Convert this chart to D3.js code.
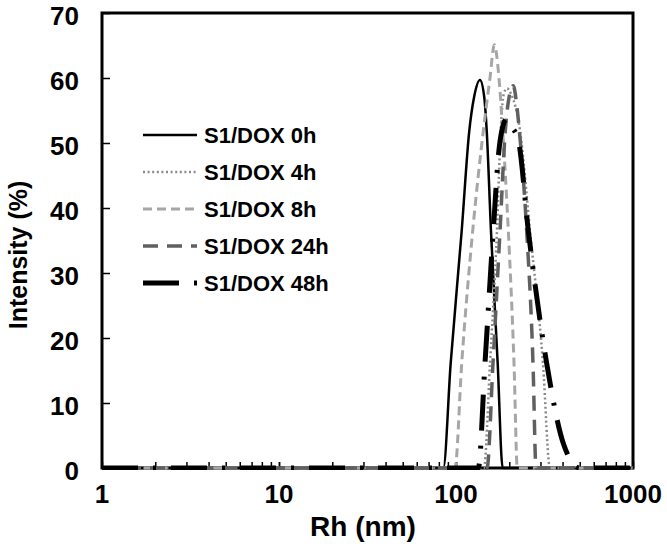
<!DOCTYPE html>
<html><head><meta charset="utf-8">
<script src="https://cdn.jsdelivr.net/npm/d3@7"></script>
<style>body{margin:0;background:#fff}svg{display:block}text{font-family:"Liberation Sans",Arial,sans-serif;font-weight:bold;fill:#000}</style>
</head><body><svg id="c" width="667" height="547"></svg>
<script>
const seriesNames = ["S1/DOX 0h","S1/DOX 4h","S1/DOX 8h","S1/DOX 24h","S1/DOX 48h"];
const sizes0h  = [1, 84.8, 93.3, 107.7, 118.9, 126.4, 136.6, 144.5, 149.1, 157.6, 172.0, 183.5, 1000];
const values0h = [0, 0, 16.1, 36.5, 51.9, 57.0, 59.7, 57.0, 51.9, 36.5, 16.1, 0, 0];
const sizes4h  = [1, 143.9, 155.6, 170.4, 178.9, 186, 194, 205, 230, 261.8, 310, 339.6, 1000];
const values4h = [0, 0, 16.1, 36.5, 51.9, 57.5, 58.4, 57.5, 51.9, 36.5, 16.1, 0, 0];
const sizes8h  = [1, 98.7, 107.7, 124.3, 142.7, 155.6, 164.6, 174.9, 183.5, 197.5, 212.7, 222.0, 1000];
const values8h = [0, 0, 16.1, 36.5, 51.9, 60.0, 65.1, 60.0, 51.9, 36.5, 16.1, 0, 0];
const sizes24h  = [1, 149.7, 161.8, 177.3, 190, 199.3, 210.7, 220, 228, 250.8, 272.3, 283.2, 1000];
const values24h = [0, 0, 16.1, 36.5, 51.9, 57.0, 58.8, 56.0, 51.9, 36.5, 16.1, 0, 0];
const sizes48h  = [1, 133.7, 145.8, 162.4, 175, 184, 193.4, 205, 225, 256.2, 325.4, 403.7, 501, 1000];
const values48h = [0, 0, 16.1, 36.5, 49.0, 52.6, 53.7, 52.6, 50.4, 36.5, 16.1, 3.8, 0, 0];
const xTicks = [1, 10, 100, 1000];
const yTicks = [0, 10, 20, 30, 40, 50, 60, 70];

const sizes = [sizes0h, sizes4h, sizes8h, sizes24h, sizes48h];
const values = [values0h, values4h, values8h, values24h, values48h];
const styles = [
  {stroke:"#000", width:2.5, dash:null},
  {stroke:"#8a8a8a", width:2.5, dash:"2,2.6"},
  {stroke:"#a6a6a6", width:3, dash:"9,5"},
  {stroke:"#606060", width:3.5, dash:"15,9"},
  {stroke:"#000", width:5, dash:"36,15,3,15"}
];

const svg = d3.select("#c");
const L = 102, R = 633, T = 13, B = 468;
const x = d3.scaleLog().domain([1, 1000]).range([L, R]);
const y = d3.scaleLinear().domain([0, 70]).range([B, T]);

svg.append("defs").append("clipPath").attr("id","clip")
  .append("rect").attr("x", L).attr("y", T - 10).attr("width", R - L).attr("height", B - T + 12);

// minor ticks on x
const minor = [];
for (let d = 1; d < 1000; d *= 10) for (let k = 1; k <= 10; k++) minor.push(d * k);
const gx = svg.append("g").attr("transform", `translate(0,${B})`)
  .call(d3.axisBottom(x).tickValues(minor).tickSize(-6).tickFormat(""));
gx.select(".domain").remove();
gx.selectAll("line").attr("stroke","#000").attr("stroke-width",1.5);

const gy = svg.append("g").attr("transform", `translate(${L},0)`)
  .call(d3.axisLeft(y).tickValues(yTicks).tickSize(-8).tickFormat(""));
gy.select(".domain").remove();
gy.selectAll("line").attr("stroke","#000").attr("stroke-width",1.5);

// frame
svg.append("rect").attr("x", L).attr("y", T).attr("width", R - L).attr("height", B - T)
  .attr("fill","none").attr("stroke","#000").attr("stroke-width",3);

// labels
svg.append("g").selectAll("text").data(yTicks).join("text")
  .attr("x", 79).attr("y", d => y(d) + 3).attr("dy","0.36em").attr("text-anchor","end")
  .style("font-size","26px").text(d => d);
svg.append("g").selectAll("text").data(xTicks).join("text")
  .attr("x", d => x(d)).attr("y", 503).attr("text-anchor","middle")
  .style("font-size","26px").text(d => d);
svg.append("text").attr("x", 363).attr("y", 536).attr("text-anchor","middle")
  .style("font-size","28px").text("Rh (nm)");
svg.append("text").attr("transform","translate(27,255) rotate(-90)").attr("text-anchor","middle")
  .style("font-size","25px").text("Intensity (%)");

// lines
const line = d3.line().x(d => x(d[0])).y(d => y(d[1])).curve(d3.curveMonotoneX);
const gl = svg.append("g").attr("clip-path","url(#clip)");
sizes.forEach((s, i) => {
  const pts = s.map((v, j) => [v, values[i][j]]);
  gl.append("path").datum(pts).attr("d", line).attr("fill","none")
    .attr("stroke", styles[i].stroke).attr("stroke-width", styles[i].width)
    .attr("stroke-dasharray", styles[i].dash);
});

// legend
const ly = [135, 172, 209, 246, 283];
const lg = svg.append("g");
seriesNames.forEach((n, i) => {
  lg.append("line").attr("x1", 143).attr("x2", 197).attr("y1", ly[i]).attr("y2", ly[i])
    .attr("stroke", styles[i].stroke).attr("stroke-width", styles[i].width)
    .attr("stroke-dasharray", styles[i].dash);
  lg.append("text").attr("x", 204).attr("y", ly[i]).attr("dy","0.36em")
    .style("font-size","22px").text(n);
});
</script></body></html>
